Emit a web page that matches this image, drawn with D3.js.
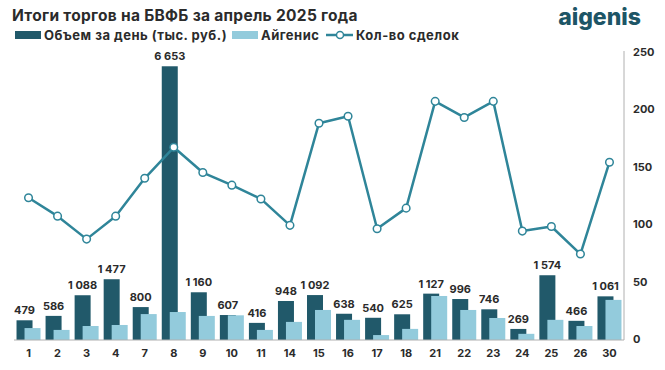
<!DOCTYPE html>
<html>
<head>
<meta charset="utf-8">
<script src="https://cdn.jsdelivr.net/npm/d3@7"></script>
<style>
  body { margin: 0; background: #fff; }
  svg text { font-family: "Inter", "Open Sans", sans-serif; font-weight: 700; fill: #2b2b2b; }
</style>
</head>
<body>
<svg id="chart" width="665" height="370"></svg>
<script>
const days = ["1","2","3","4","7","8","9","10","11","14","15","16","17","18","21","22","23","24","25","26","30"];
const volume = [479,586,1088,1477,800,6653,1160,607,416,948,1092,638,540,625,1127,996,746,269,1574,466,1061];
const aigenis = [290,245,340,365,630,680,585,600,245,440,730,490,120,270,1070,730,535,150,490,340,975];
const deals = [123,107,87,107,140,167,145,134,122,99,188,194,96,114,207,193,207,94,98,74,154];
const rightTicks = [0,50,100,150,200,250];

const darkColor = "#21596a", lightColor = "#93cbdc", lineColor = "#2f8599";
const svg = d3.select("#chart");
const plotLeft = 14, plotRight = 624, plotTop = 52, plotBottom = 340;

const x = d3.scaleBand().domain(days).range([plotLeft, plotRight]);
const yBar = d3.scaleLinear().domain([0, 7000]).range([plotBottom, plotTop]);
const yLine = d3.scaleLinear().domain([0, 250]).range([plotBottom - 1, plotTop]);
const fmt = v => d3.format(",")(v).replace(/,/g, " ");
const cx = d => x(d) + x.bandwidth() / 2;

// title + logo
svg.append("text").attr("x", 12).attr("y", 21).style("font-size", "15.5px").style("letter-spacing", "0.3px")
  .text("Итоги торгов на БВФБ за апрель 2025 года");
svg.append("text").attr("x", 641).attr("y", 25).attr("text-anchor", "end")
  .style("font-size", "23px").style("fill", "#1d5566").style("font-weight", 800).text("aigenis");

// legend
const lg = svg.append("g").style("font-size", "13px").style("letter-spacing", "0.5px");
lg.append("rect").attr("x", 15).attr("y", 31).attr("width", 26).attr("height", 8).attr("fill", darkColor);
lg.append("text").attr("x", 44).attr("y", 40).text("Объем за день (тыс. руб.)");
lg.append("rect").attr("x", 232).attr("y", 31).attr("width", 26).attr("height", 8).attr("fill", lightColor);
lg.append("text").attr("x", 261).attr("y", 40).text("Айгенис");
lg.append("line").attr("x1", 326).attr("x2", 353).attr("y1", 35).attr("y2", 35).attr("stroke", lineColor).attr("stroke-width", 2.5);
lg.append("circle").attr("cx", 340).attr("cy", 35).attr("r", 3.5).attr("fill", "#fff").attr("stroke", lineColor).attr("stroke-width", 1.5);
lg.append("text").attr("x", 356).attr("y", 40).text("Кол-во сделок");

// bars
svg.selectAll(".vol").data(days).join("rect")
  .attr("x", d => cx(d) - 12).attr("width", 16)
  .attr("y", (d, i) => yBar(volume[i])).attr("height", (d, i) => plotBottom - yBar(volume[i]))
  .attr("fill", darkColor);
svg.selectAll(".aig").data(days).join("rect")
  .attr("x", d => cx(d) - 4).attr("width", 16)
  .attr("y", (d, i) => yBar(aigenis[i])).attr("height", (d, i) => plotBottom - yBar(aigenis[i]))
  .attr("fill", lightColor);
svg.selectAll(".lbl").data(days).join("text")
  .attr("x", d => cx(d) - 4).attr("y", (d, i) => yBar(volume[i]) - 6)
  .attr("text-anchor", "middle").style("font-size", "11px")
  .text((d, i) => fmt(volume[i]));

// axes
svg.append("line").attr("x1", plotLeft).attr("x2", plotRight).attr("y1", plotBottom).attr("y2", plotBottom).attr("stroke", "#b0b0b0");
svg.append("line").attr("x1", plotRight).attr("x2", plotRight).attr("y1", plotTop - 1).attr("y2", plotBottom).attr("stroke", "#b0b0b0");
const xAxis = svg.append("g").attr("transform", `translate(0,${plotBottom})`)
  .call(d3.axisBottom(x).tickSize(0).tickPadding(9));
xAxis.select(".domain").remove();
xAxis.selectAll("text").style("font-size", "11px").attr("fill", "#2b2b2b");
const yAxis = svg.append("g").attr("transform", `translate(${plotRight + 9},0)`)
  .call(d3.axisRight(yLine).tickValues(rightTicks).tickSize(0).tickPadding(0));
yAxis.select(".domain").remove();
yAxis.selectAll("text").style("font-size", "11px").attr("fill", "#2b2b2b");

// line
const line = d3.line().x(d => cx(d)).y((d, i) => yLine(deals[i]));
svg.append("path").datum(days).attr("d", line).attr("fill", "none")
  .attr("stroke", lineColor).attr("stroke-width", 2.5).attr("stroke-linejoin", "round");
svg.selectAll(".pt").data(days).join("circle")
  .attr("cx", d => cx(d)).attr("cy", (d, i) => yLine(deals[i])).attr("r", 3.8)
  .attr("fill", "#fff").attr("stroke", lineColor).attr("stroke-width", 1.5);
</script>
</body>
</html>
